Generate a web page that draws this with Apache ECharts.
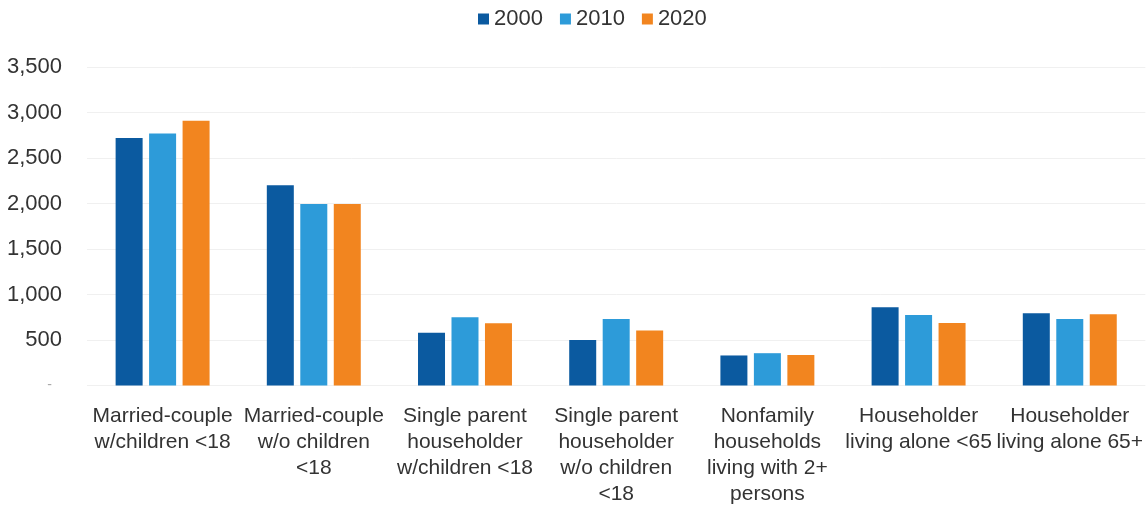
<!DOCTYPE html>
<html>
<head>
<meta charset="utf-8">
<script src="https://cdn.jsdelivr.net/npm/echarts@6/dist/echarts.min.js"></script>
<style>
  html, body { margin: 0; padding: 0; background: #fff; }
  #chart { width: 1146px; height: 516px; }
</style>
</head>
<body>
<div id="chart"></div>
<script>
// Household types (thousands of households) by census year
const categories = [
  'Married-couple\nw/children <18',
  'Married-couple\nw/o children\n<18',
  'Single parent\nhouseholder\nw/children <18',
  'Single parent\nhouseholder\nw/o children\n<18',
  'Nonfamily\nhouseholds\nliving with 2+\npersons',
  'Householder\nliving alone <65',
  'Householder\nliving alone 65+'
];
const years = ['2000', '2010', '2020'];
const values2000 = [2720, 2200, 580, 500, 330, 860, 795];
const values2010 = [2770, 1995, 750, 730, 355, 775, 730];
const values2020 = [2910, 1995, 685, 605, 335, 688, 784];
const yTicks = [0, 500, 1000, 1500, 2000, 2500, 3000, 3500];

const colors = ['#0b5aa0', '#2d9bd9', '#f2851f'];
const font = '"Liberation Sans Narrow", "Liberation Sans", Arial, sans-serif';

const chart = echarts.init(document.getElementById('chart'), null, { renderer: 'canvas' });

const seriesData = [values2000, values2010, values2020];

chart.setOption({
  animation: false,
  color: colors,
  textStyle: { fontFamily: font },
  legend: {
    top: 3,
    left: 473,
    itemWidth: 11,
    itemHeight: 11,
    itemGap: 17,
    icon: 'rect',
    textStyle: { fontSize: 22, color: '#333', fontFamily: font }
  },
  grid: { left: 87, right: 0, top: 67, bottom: 130.5, containLabel: false },
  xAxis: {
    type: 'category',
    data: categories,
    axisLine: { show: false },
    axisTick: { show: false },
    axisLabel: {
      interval: 0,
      margin: 18,
      fontSize: 21,
      lineHeight: 26,
      color: '#333',
      fontFamily: font
    }
  },
  yAxis: {
    type: 'value',
    min: yTicks[0],
    max: yTicks[yTicks.length - 1],
    interval: 500,
    axisLine: { show: false },
    axisTick: { show: false },
    splitLine: { lineStyle: { color: '#f0f0f0', width: 1 } },
    axisLabel: {
      margin: 25,
      fontSize: 22,
      color: '#333',
      fontFamily: font,
      formatter: function (v) {
        return v === 0 ? '{z|-}' : v.toLocaleString('en-US');
      },
      rich: { z: { color: '#aaa', fontSize: 14, padding: [0, 10, 0, 0] } }
    }
  },
  series: years.map(function (y, i) {
    return {
      name: y,
      type: 'bar',
      data: seriesData[i],
      barWidth: 27,
      barGap: '24%',
      itemStyle: { color: colors[i] }
    };
  })
});
</script>
</body>
</html>
